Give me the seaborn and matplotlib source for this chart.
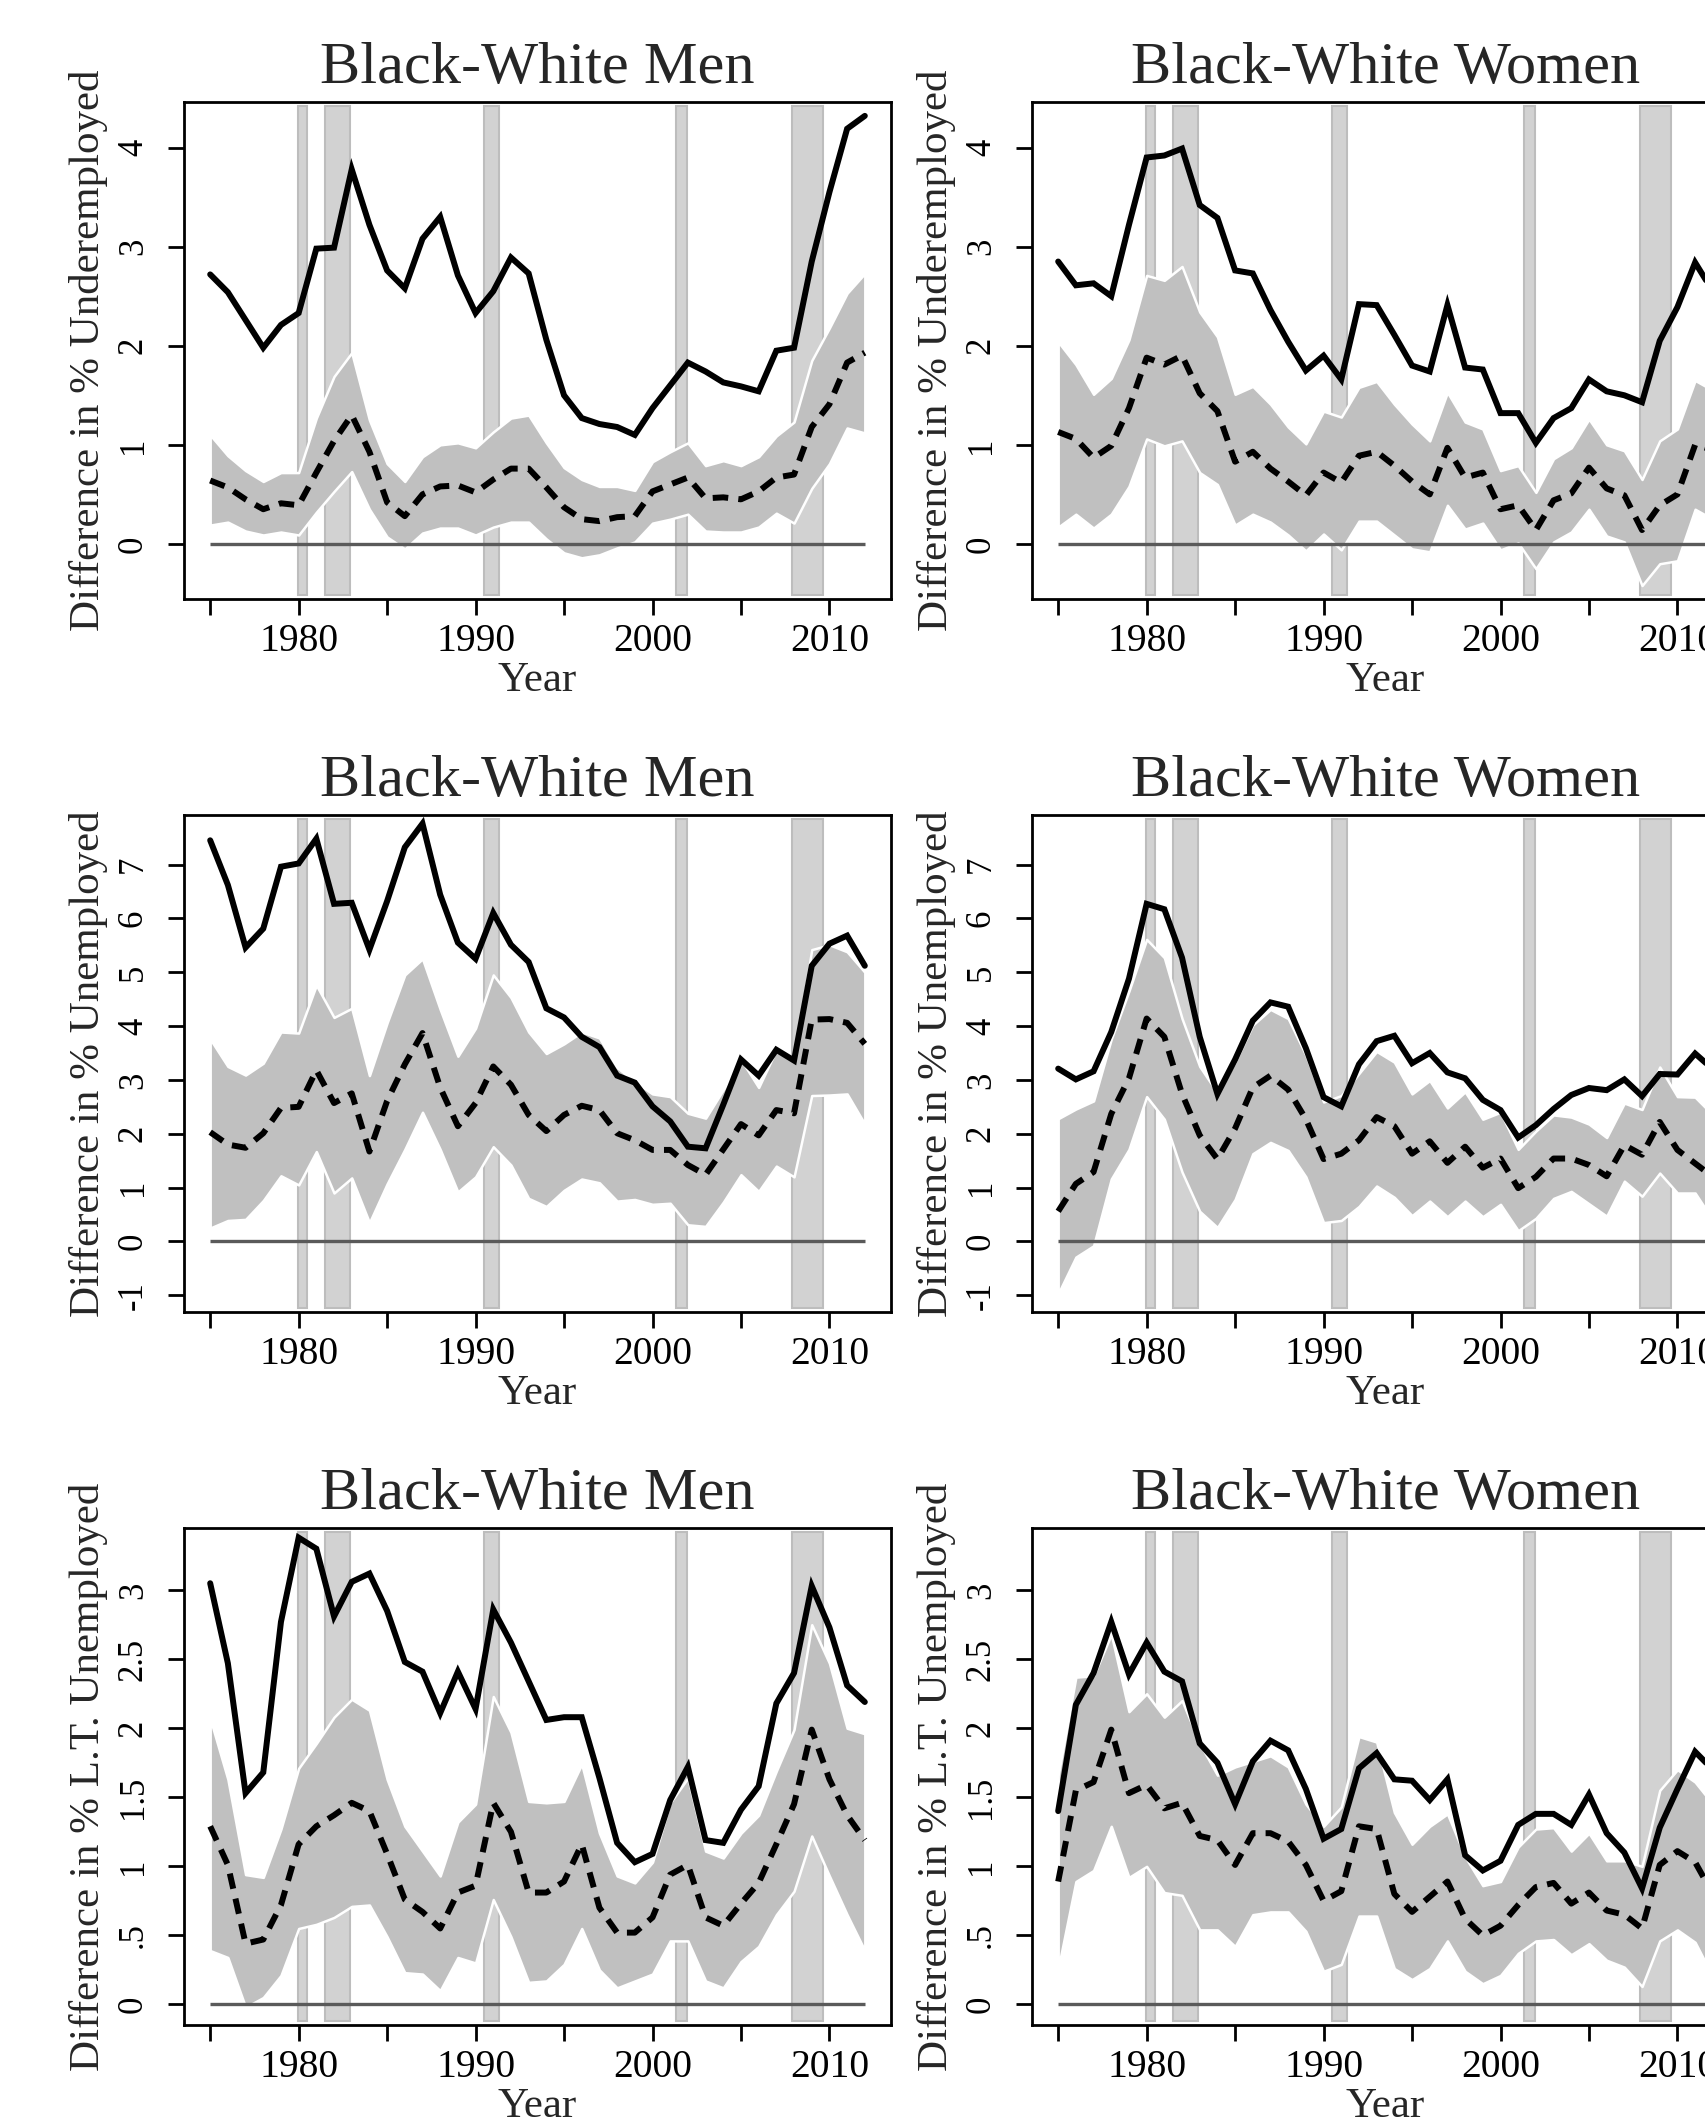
import matplotlib
matplotlib.use("Agg")
import matplotlib.pyplot as plt
import seaborn as sns
import pandas as pd
import numpy as np

years = list(range(1975, 2013))

# ---------------- Underemployed ----------------
ue_men_solid = [2.72, 2.54, 2.26, 1.98, 2.21, 2.33, 2.98, 2.99, 3.78, 3.22, 2.76, 2.58, 3.08, 3.30, 2.71, 2.33, 2.55, 2.89, 2.73, 2.06, 1.50, 1.27, 1.21, 1.18, 1.10, 1.37, 1.60, 1.83, 1.74, 1.63, 1.59, 1.54, 1.95, 1.98, 2.85, 3.55, 4.19, 4.32]
ue_men_dash = [0.64, 0.57, 0.45, 0.35, 0.41, 0.39, 0.72, 1.04, 1.30, 0.93, 0.42, 0.28, 0.50, 0.58, 0.59, 0.52, 0.65, 0.76, 0.76, 0.57, 0.37, 0.25, 0.23, 0.27, 0.28, 0.53, 0.60, 0.67, 0.46, 0.47, 0.45, 0.53, 0.67, 0.70, 1.18, 1.41, 1.83, 1.93]
ue_men_hi = [1.10, 0.89, 0.74, 0.63, 0.72, 0.72, 1.27, 1.69, 1.93, 1.25, 0.81, 0.63, 0.88, 1.00, 1.02, 0.97, 1.13, 1.27, 1.30, 1.02, 0.77, 0.65, 0.58, 0.58, 0.54, 0.83, 0.93, 1.02, 0.79, 0.84, 0.79, 0.88, 1.09, 1.23, 1.85, 2.18, 2.53, 2.73]
ue_men_lo = [0.19, 0.22, 0.13, 0.09, 0.12, 0.09, 0.32, 0.53, 0.73, 0.35, 0.07, -0.05, 0.11, 0.16, 0.16, 0.09, 0.17, 0.22, 0.22, 0.05, -0.09, -0.14, -0.11, -0.04, 0.02, 0.21, 0.25, 0.30, 0.13, 0.12, 0.12, 0.17, 0.31, 0.21, 0.56, 0.81, 1.17, 1.12]

ue_wom_solid = [2.85, 2.61, 2.63, 2.50, 3.22, 3.90, 3.92, 3.99, 3.42, 3.29, 2.76, 2.73, 2.36, 2.04, 1.75, 1.90, 1.66, 2.42, 2.41, 2.11, 1.80, 1.74, 2.41, 1.78, 1.76, 1.32, 1.32, 1.02, 1.27, 1.37, 1.66, 1.54, 1.50, 1.43, 2.05, 2.39, 2.84, 2.55]
ue_wom_dash = [1.13, 1.06, 0.87, 0.99, 1.37, 1.88, 1.81, 1.90, 1.52, 1.34, 0.83, 0.93, 0.76, 0.63, 0.49, 0.72, 0.62, 0.89, 0.93, 0.79, 0.63, 0.50, 0.97, 0.67, 0.72, 0.35, 0.39, 0.14, 0.44, 0.51, 0.77, 0.56, 0.49, 0.14, 0.39, 0.50, 1.00, 0.95]
ue_wom_hi = [2.04, 1.81, 1.51, 1.67, 2.06, 2.71, 2.66, 2.80, 2.34, 2.09, 1.51, 1.59, 1.41, 1.18, 1.01, 1.34, 1.28, 1.58, 1.64, 1.41, 1.21, 1.04, 1.53, 1.23, 1.16, 0.74, 0.79, 0.52, 0.86, 0.97, 1.26, 1.00, 0.94, 0.65, 1.04, 1.16, 1.65, 1.55]
ue_wom_lo = [0.17, 0.30, 0.16, 0.30, 0.58, 1.06, 0.99, 1.04, 0.72, 0.60, 0.19, 0.30, 0.22, 0.09, -0.07, 0.10, -0.06, 0.23, 0.23, 0.09, -0.05, -0.08, 0.39, 0.15, 0.21, -0.06, 0.01, -0.25, 0.02, 0.12, 0.35, 0.08, 0.02, -0.42, -0.20, -0.17, 0.35, 0.25]

# ---------------- Unemployed ----------------
un_men_solid = [7.45, 6.62, 5.46, 5.81, 6.96, 7.02, 7.48, 6.27, 6.29, 5.42, 6.32, 7.32, 7.76, 6.44, 5.55, 5.25, 6.10, 5.51, 5.19, 4.33, 4.16, 3.80, 3.61, 3.08, 2.95, 2.51, 2.23, 1.76, 1.73, 2.54, 3.38, 3.08, 3.56, 3.36, 5.12, 5.53, 5.68, 5.12]
un_men_dash = [2.03, 1.80, 1.74, 2.01, 2.48, 2.50, 3.18, 2.57, 2.75, 1.67, 2.61, 3.29, 3.87, 2.86, 2.14, 2.57, 3.25, 2.91, 2.35, 2.05, 2.35, 2.52, 2.44, 2.01, 1.88, 1.70, 1.70, 1.42, 1.24, 1.71, 2.18, 1.97, 2.44, 2.38, 4.12, 4.13, 4.06, 3.67]
un_men_hi = [3.76, 3.25, 3.09, 3.31, 3.89, 3.87, 4.76, 4.16, 4.33, 3.08, 4.06, 4.95, 5.25, 4.31, 3.44, 3.96, 4.95, 4.53, 3.89, 3.49, 3.67, 3.89, 3.78, 3.23, 2.97, 2.74, 2.69, 2.38, 2.29, 2.82, 3.38, 2.86, 3.56, 3.38, 5.42, 5.51, 5.38, 5.00]
un_men_lo = [0.25, 0.39, 0.41, 0.76, 1.22, 1.05, 1.67, 0.90, 1.18, 0.35, 1.07, 1.71, 2.40, 1.71, 0.92, 1.20, 1.76, 1.42, 0.80, 0.65, 0.95, 1.16, 1.09, 0.75, 0.78, 0.69, 0.71, 0.31, 0.28, 0.73, 1.24, 0.93, 1.40, 1.20, 2.71, 2.72, 2.74, 2.18]

un_wom_solid = [3.21, 3.01, 3.16, 3.89, 4.88, 6.27, 6.17, 5.27, 3.80, 2.74, 3.38, 4.10, 4.44, 4.36, 3.59, 2.68, 2.51, 3.29, 3.72, 3.82, 3.31, 3.50, 3.14, 3.03, 2.63, 2.44, 1.93, 2.16, 2.46, 2.72, 2.85, 2.81, 3.01, 2.70, 3.11, 3.10, 3.49, 3.20]
un_wom_dash = [0.56, 1.07, 1.29, 2.37, 3.03, 4.14, 3.80, 2.74, 1.97, 1.53, 2.10, 2.86, 3.08, 2.82, 2.27, 1.53, 1.63, 1.88, 2.31, 2.14, 1.63, 1.86, 1.46, 1.76, 1.37, 1.54, 0.99, 1.20, 1.54, 1.54, 1.42, 1.21, 1.79, 1.61, 2.22, 1.70, 1.45, 1.20]
un_wom_hi = [2.28, 2.46, 2.61, 3.76, 4.65, 5.61, 5.27, 4.14, 3.25, 2.76, 3.33, 4.02, 4.31, 4.14, 3.46, 2.59, 2.71, 3.12, 3.53, 3.33, 2.74, 2.99, 2.48, 2.78, 2.27, 2.40, 1.71, 2.05, 2.35, 2.31, 2.18, 1.93, 2.57, 2.45, 3.24, 2.69, 2.68, 2.35]
un_wom_lo = [-0.97, -0.29, -0.08, 1.16, 1.71, 2.69, 2.27, 1.29, 0.56, 0.26, 0.78, 1.63, 1.84, 1.69, 1.20, 0.35, 0.39, 0.65, 1.03, 0.82, 0.48, 0.75, 0.46, 0.75, 0.46, 0.69, 0.20, 0.43, 0.80, 0.93, 0.70, 0.47, 1.12, 0.84, 1.27, 0.90, 0.90, 0.40]

# ---------------- Long-term unemployed ----------------
lt_men_solid = [3.05, 2.47, 1.53, 1.68, 2.77, 3.38, 3.30, 2.81, 3.06, 3.12, 2.85, 2.48, 2.41, 2.11, 2.41, 2.14, 2.86, 2.62, 2.34, 2.06, 2.08, 2.08, 1.64, 1.17, 1.03, 1.09, 1.48, 1.72, 1.19, 1.17, 1.41, 1.58, 2.18, 2.40, 3.03, 2.73, 2.31, 2.19]
lt_men_dash = [1.29, 1.01, 0.44, 0.47, 0.72, 1.16, 1.29, 1.37, 1.46, 1.40, 1.09, 0.76, 0.67, 0.55, 0.81, 0.86, 1.46, 1.25, 0.81, 0.81, 0.89, 1.16, 0.70, 0.52, 0.52, 0.63, 0.94, 1.01, 0.63, 0.57, 0.73, 0.88, 1.16, 1.45, 1.99, 1.63, 1.37, 1.19]
lt_men_hi = [2.07, 1.63, 0.94, 0.92, 1.27, 1.71, 1.89, 2.08, 2.21, 2.13, 1.63, 1.29, 1.11, 0.93, 1.32, 1.45, 2.23, 1.97, 1.47, 1.46, 1.47, 1.74, 1.24, 0.93, 0.88, 1.03, 1.46, 1.64, 1.11, 1.06, 1.24, 1.37, 1.69, 1.99, 2.75, 2.47, 2.00, 1.96]
lt_men_lo = [0.39, 0.34, -0.02, 0.05, 0.21, 0.55, 0.58, 0.63, 0.71, 0.72, 0.49, 0.23, 0.22, 0.10, 0.34, 0.30, 0.76, 0.49, 0.16, 0.17, 0.29, 0.55, 0.25, 0.12, 0.17, 0.22, 0.46, 0.46, 0.17, 0.12, 0.31, 0.42, 0.65, 0.82, 1.22, 0.93, 0.65, 0.39]

lt_wom_solid = [1.40, 2.17, 2.40, 2.77, 2.39, 2.62, 2.41, 2.34, 1.89, 1.75, 1.45, 1.76, 1.91, 1.84, 1.56, 1.20, 1.27, 1.71, 1.82, 1.63, 1.62, 1.48, 1.63, 1.08, 0.97, 1.04, 1.30, 1.38, 1.38, 1.30, 1.52, 1.24, 1.10, 0.84, 1.28, 1.56, 1.83, 1.70]
lt_wom_dash = [0.89, 1.55, 1.61, 1.99, 1.53, 1.59, 1.42, 1.46, 1.22, 1.19, 1.01, 1.24, 1.24, 1.18, 1.01, 0.75, 0.82, 1.29, 1.27, 0.80, 0.67, 0.78, 0.89, 0.62, 0.50, 0.57, 0.72, 0.85, 0.88, 0.73, 0.81, 0.68, 0.65, 0.55, 1.01, 1.11, 1.03, 0.80]
lt_wom_hi = [1.66, 2.37, 2.38, 2.68, 2.12, 2.25, 2.08, 2.20, 1.89, 1.66, 1.72, 1.76, 1.80, 1.72, 1.45, 1.29, 1.43, 1.94, 1.90, 1.39, 1.16, 1.29, 1.38, 1.07, 0.86, 0.89, 1.14, 1.27, 1.28, 1.11, 1.24, 1.04, 1.04, 1.00, 1.55, 1.70, 1.61, 1.45]
lt_wom_lo = [0.26, 0.89, 0.97, 1.29, 0.92, 1.00, 0.81, 0.79, 0.54, 0.54, 0.42, 0.65, 0.67, 0.67, 0.53, 0.24, 0.29, 0.64, 0.64, 0.26, 0.18, 0.26, 0.46, 0.24, 0.15, 0.21, 0.37, 0.46, 0.47, 0.36, 0.44, 0.32, 0.27, 0.13, 0.46, 0.54, 0.45, 0.20]

# recession bars (start, end in years)
rec_start = [1979.95, 1981.5, 1990.5, 2001.3, 2007.9]
rec_end = [1980.5, 1982.9, 1991.35, 2001.95, 2009.65]

titles = ["Black-White Men", "Black-White Women"]
ylabels = ["Difference in % Underemployed", "Difference in % Unemployed",
           "Difference in % L.T. Unemployed"]
ylims = [(-0.556, 4.46), (-1.31, 7.92), (-0.149, 3.45)]
yticks = [[0, 1, 2, 3, 4], [-1, 0, 1, 2, 3, 4, 5, 6, 7],
          [0, 0.5, 1, 1.5, 2, 2.5, 3]]
yticklabels = [["0", "1", "2", "3", "4"],
               ["-1", "0", "1", "2", "3", "4", "5", "6", "7"],
               ["0", ".5", "1", "1.5", "2", "2.5", "3"]]
xticks = [1975, 1980, 1985, 1990, 1995, 2000, 2005, 2010]
xticklabels = ["", "1980", "", "1990", "", "2000", "", "2010"]

panels = [
    [(ue_men_solid, ue_men_dash, ue_men_hi, ue_men_lo),
     (ue_wom_solid, ue_wom_dash, ue_wom_hi, ue_wom_lo)],
    [(un_men_solid, un_men_dash, un_men_hi, un_men_lo),
     (un_wom_solid, un_wom_dash, un_wom_hi, un_wom_lo)],
    [(lt_men_solid, lt_men_dash, lt_men_hi, lt_men_lo),
     (lt_wom_solid, lt_wom_dash, lt_wom_hi, lt_wom_lo)],
]

sns.set_style("ticks")
plt.rcParams['font.family'] = ['Liberation Serif', 'DejaVu Serif']
plt.rcParams['axes.linewidth'] = 2.0
plt.rcParams['xtick.major.width'] = 2.0
plt.rcParams['ytick.major.width'] = 2.0
plt.rcParams['xtick.major.size'] = 11.5
plt.rcParams['ytick.major.size'] = 11.5
plt.rcParams['xtick.color'] = 'black'
plt.rcParams['ytick.color'] = 'black'
plt.rcParams['axes.edgecolor'] = 'black'

W, H = 1705, 2126
fig = plt.figure(figsize=(W / 100, H / 100), dpi=100)
fig.patch.set_facecolor('white')

col_left = [184, 1032]
row_top = [102, 815, 1528]
aw, ah = 707, 497

for r in range(3):
    for c in range(2):
        ax = fig.add_axes([col_left[c] / W, 1 - (row_top[r] + ah) / H, aw / W, ah / H])
        solid, dash, hi, lo = panels[r][c]
        df = pd.DataFrame({"year": years, "solid": solid, "dash": dash, "hi": hi, "lo": lo})

        for s, e in zip(rec_start, rec_end):
            ax.axvspan(s, e, ymin=0.008, ymax=0.992, facecolor='#d2d2d2',
                       edgecolor='#bdbdbd', lw=1.5, zorder=1)
        ax.fill_between(df["year"], df["lo"], df["hi"], facecolor='#c0c0c0',
                        edgecolor='white', lw=1.8, zorder=2)
        ax.hlines(0, years[0], years[-1], color='#5a5a5a', lw=2.4, zorder=3)
        sns.lineplot(data=df, x="year", y="solid", color='black', lw=4.3,
                     ax=ax, zorder=4, solid_joinstyle='miter')
        sns.lineplot(data=df, x="year", y="dash", color='black', lw=4.3,
                     ax=ax, zorder=4)
        ax.lines[-1].set_dashes([2.6, 1.7])
        ax.lines[-1].set_dash_capstyle('butt')

        ax.set_xlim(1973.52, 2013.48)
        ax.set_ylim(*ylims[r])
        ax.set_xticks(xticks)
        ax.set_xticklabels(xticklabels, fontsize=28.5)
        ax.set_yticks(yticks[r])
        ax.set_yticklabels(yticklabels[r], fontsize=25, rotation=90, va='center')
        ax.tick_params(axis='x', direction='out', pad=6)
        ax.tick_params(axis='y', direction='out', pad=13)
        ax.set_xlabel("Year", fontsize=31, labelpad=1)
        ax.set_ylabel(ylabels[r], fontsize=31)
        ax.yaxis.set_label_coords(-0.108, 0.5)
        ax.set_title(titles[c], fontsize=43.5, pad=14)
        for sp in ax.spines.values():
            sp.set_visible(True)
            sp.set_linewidth(2.0)
            sp.set_color('black')
        ax.set_facecolor('white')

fig.savefig("out.png", dpi=100, facecolor='white')
